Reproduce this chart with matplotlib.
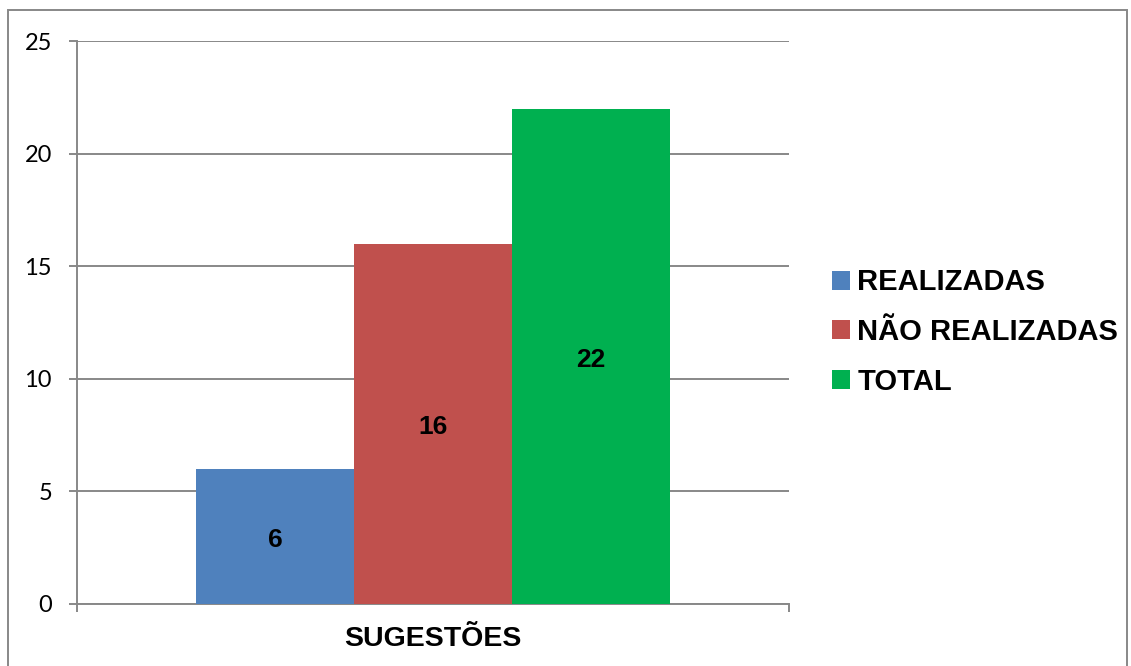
import numpy as np
import matplotlib.pyplot as plt
from matplotlib.patches import Rectangle

# dados do gráfico
categoria = "SUGESTÕES"
series = ["REALIZADAS", "NÃO REALIZADAS", "TOTAL"]
valores = [6, 16, 22]
cores = ["#4F81BD", "#C0504D", "#00B050"]
yticks = [0, 5, 10, 15, 20, 25]

cinza = "#888888"

fig = plt.figure(figsize=(11.31, 6.66), dpi=100)
ax = fig.add_axes([77 / 1131, 62 / 666, 712 / 1131, 563 / 666])

largura = 0.222
pos = (np.arange(len(valores)) - 1) * largura
barras = ax.bar(pos, valores, width=largura, color=cores, label=series, zorder=3)

# rótulos de valor no meio das barras
for x, v in zip(pos, valores):
    ax.annotate(str(v), (x, v / 2), xytext=(0, -2.5), textcoords="offset points",
                ha="center", va="center", fontsize=19, fontweight="bold",
                family="Liberation Sans", zorder=4)

ax.set_xlim(-0.5, 0.5)
ax.set_ylim(0, 25)
ax.set_yticks(yticks)
ax.set_xticks([-0.5, 0.5])
ax.set_xticklabels([])
ax.set_xlabel(categoria, fontsize=20.5, fontweight="bold",
              family="Liberation Sans", labelpad=6)

ax.grid(axis="y", color=cinza, linewidth=1.4, zorder=0)
for s in ["top", "right"]:
    ax.spines[s].set_visible(False)
for s in ["left", "bottom"]:
    ax.spines[s].set_color(cinza)
    ax.spines[s].set_linewidth(1.4)
ax.tick_params(axis="both", direction="out", length=6, width=1.4, color=cinza)
ax.tick_params(axis="y", pad=12, labelsize=17)
for t in ax.get_yticklabels():
    t.set_family("Lato")

fig.legend(barras, series, loc="center left",
           bbox_to_anchor=(832 / 1131, 1 - 332 / 666),
           frameon=False, borderpad=0, borderaxespad=0,
           handlelength=0.62, handleheight=0.62, handletextpad=0.25,
           labelspacing=0.74,
           prop={"family": "Liberation Sans", "weight": "bold", "size": 21})

# moldura em volta da figura
fig.patches.append(Rectangle((8 / 1131, -0.05), 1119 / 1131, 0.05 + 656 / 666,
                             transform=fig.transFigure, fill=False,
                             edgecolor=cinza, linewidth=1.4))

fig.savefig("out.png", dpi=100)
